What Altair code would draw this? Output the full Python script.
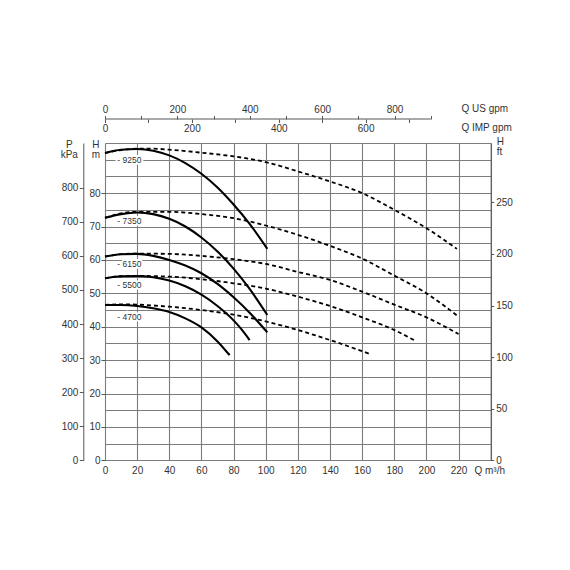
import altair as alt
import pandas as pd

# pump curves: flow Q (m3/h) and head H (m), one pair of lists per speed
speeds = ["9250", "7350", "6150", "5500", "4700"]

solid_q = {
    "9250": [0, 10, 20, 30, 40, 50, 60, 70, 80, 90, 101],
    "7350": [0, 10, 20, 30, 40, 50, 60, 70, 80, 90, 101],
    "6150": [0, 10, 20, 30, 40, 50, 60, 70, 80, 90, 101],
    "5500": [0, 10, 20, 30, 40, 50, 60, 70, 80, 85, 90],
    "4700": [0, 10, 20, 30, 40, 50, 60, 70, 77.5],
}
solid_h = {
    "9250": [92.0, 93.0, 93.2, 92.7, 91.3, 89.0, 85.8, 81.7, 76.6, 70.8, 63.3],
    "7350": [72.6, 73.7, 74.2, 73.7, 72.3, 70.0, 66.7, 62.5, 57.4, 51.3, 43.5],
    "6150": [61.0, 61.7, 61.8, 61.2, 60.0, 58.3, 56.0, 52.8, 48.8, 44.2, 38.3],
    "5500": [54.5, 55.1, 55.2, 54.8, 53.8, 52.1, 49.6, 46.2, 41.9, 39.2, 36.0],
    "4700": [46.5, 46.5, 46.2, 45.5, 44.4, 42.5, 39.8, 35.6, 31.5],
}

dash_q = {
    "9250": [0, 10, 20, 30, 40, 60, 80, 100, 120, 140, 160, 180, 200, 219],
    "7350": [0, 10, 20, 40, 60, 80, 100, 120, 140, 160, 180, 200, 220],
    "6150": [0, 10, 20, 40, 60, 80, 100, 120, 140, 160, 180, 200, 220],
    "5500": [0, 10, 20, 40, 60, 80, 100, 120, 140, 160, 180, 193],
    "4700": [0, 10, 20, 40, 60, 80, 100, 120, 140, 165],
}
dash_h = {
    "9250": [92.0, 92.9, 93.3, 93.3, 93.0, 92.1, 91.0, 89.3, 86.5, 83.5, 80.0, 75.0, 69.5, 63.3],
    "7350": [72.6, 73.9, 74.4, 74.4, 73.7, 72.5, 70.3, 67.5, 64.2, 60.4, 55.3, 50.0, 43.0],
    "6150": [61.0, 61.7, 61.9, 61.8, 61.2, 60.2, 58.8, 56.4, 54.0, 50.5, 46.6, 42.8, 37.8],
    "5500": [54.5, 55.1, 55.2, 55.0, 54.2, 53.0, 51.4, 49.0, 46.2, 42.8, 39.0, 35.8],
    "4700": [46.5, 46.7, 46.6, 46.0, 45.0, 43.6, 41.6, 39.0, 36.0, 31.8],
}

# speed labels next to the start of each curve
label_q = [7.7, 7.7, 7.7, 7.7, 7.7]
label_h = [90.0, 71.7, 58.8, 52.5, 42.8]

# axis ticks
q_grid = [0, 20, 40, 60, 80, 100, 120, 140, 160, 180, 200, 220, 240]
h_grid = [0, 5, 10, 15, 20, 25, 30, 35, 40, 45, 50, 55, 60, 65, 70, 75, 80, 85, 90, 95]
kpa_ticks = [0, 100, 200, 300, 400, 500, 600, 700, 800]
ft_ticks = [0, 50, 100, 150, 200, 250]
us_ticks = [0, 100, 200, 300, 400, 500, 600, 700, 800, 900]
imp_ticks = [0, 100, 200, 300, 400, 500, 600, 700]

Q_MAX = 240
H_MAX = 95
KPA_MAX = 931.6
FT_MAX = 307.5
US_MAX = 1065.6
IMP_MAX = 888

W = 385.7
H = 317.3
FONT = "Liberation Sans"
TXT = "#333"
GRID = "#7c7c7c"
AX = "#555"

solid = pd.DataFrame(
    [{"speed": s, "q": q, "h": h} for s in speeds for q, h in zip(solid_q[s], solid_h[s])]
)
dashed = pd.DataFrame(
    [{"speed": s, "q": q, "h": h} for s in speeds for q, h in zip(dash_q[s], dash_h[s])]
)
labels = pd.DataFrame({"q": label_q, "h": label_h, "txt": ["- " + s for s in speeds]})

x_enc = alt.X(
    "q:Q",
    scale=alt.Scale(domain=[0, Q_MAX], nice=False),
    axis=alt.Axis(
        values=q_grid, labelExpr="datum.value > 220 ? '' : datum.label",
        ticks=False, domain=False, grid=True, gridColor=GRID, gridWidth=1.1,
        labelPadding=5, labelFlush=False, labelOverlap=False,
        title="Q m³/h", titleX=369, titleY=10.5, titleAlign="left", titleBaseline="middle",
    ),
)
y_enc = alt.Y(
    "h:Q",
    scale=alt.Scale(domain=[0, H_MAX], nice=False),
    axis=alt.Axis(
        values=h_grid,
        labelExpr="datum.value % 10 === 0 && datum.value <= 80 ? datum.label : ''",
        tickSize=4, tickColor=AX,
        tickOpacity={"condition": {"test": "datum.value % 10 === 0 && datum.value <= 80", "value": 1}, "value": 0},
        domain=False, grid=True, gridColor=GRID, gridWidth=1.1,
        labelPadding=1, labelOverlap=False,
        title=["H", "m"], titleAngle=0, titleX=-9.7, titleY=-4, titleAlign="center",
        titleBaseline="top", titleLineHeight=11,
    ),
)

dash_lines = alt.Chart(dashed).mark_line(
    color="black", strokeWidth=1.8, strokeDash=[4, 3], interpolate="monotone"
).encode(x=x_enc, y=y_enc, detail="speed:N")

solid_lines = alt.Chart(solid).mark_line(
    color="black", strokeWidth=2.1, interpolate="monotone"
).encode(x=x_enc, y=y_enc, detail="speed:N")

halo = alt.Chart(labels).mark_text(
    align="left", baseline="middle", font=FONT, fontSize=8.5,
    color="white", stroke="white", strokeWidth=4,
).encode(x=x_enc, y=y_enc, text="txt:N")

label_text = alt.Chart(labels).mark_text(
    align="left", baseline="middle", font=FONT, fontSize=8.5, color=TXT
).encode(x=x_enc, y=y_enc, text="txt:N")

main = alt.layer(dash_lines, solid_lines, halo, label_text)

# pressure axis on the far left
kpa = alt.Chart(pd.DataFrame({"kpa": [0, KPA_MAX]})).mark_point(opacity=0).encode(
    y=alt.Y(
        "kpa:Q",
        scale=alt.Scale(domain=[0, KPA_MAX], nice=False),
        axis=alt.Axis(
            orient="left", offset=21.7, values=kpa_ticks, tickSize=4, tickColor=AX,
            domain=True, domainColor=AX, grid=False, labelPadding=1.5, labelOverlap=False,
            title=["P", "kPa"], titleAngle=0, titleX=-14.5, titleY=-4, titleAlign="center",
            titleBaseline="top", titleLineHeight=11,
        ),
    )
)

# head in feet on the right
ft = alt.Chart(pd.DataFrame({"ft": [0, FT_MAX]})).mark_point(opacity=0).encode(
    y=alt.Y(
        "ft:Q",
        scale=alt.Scale(domain=[0, FT_MAX], nice=False),
        axis=alt.Axis(
            orient="right", offset=0, values=ft_ticks, tickSize=3, tickColor=AX,
            domain=True, domainColor=AX, grid=False, labelPadding=2, labelOverlap=False,
            title=["H", "ft"], titleAngle=0, titleX=5.5, titleY=-6.6, titleAlign="left",
            titleBaseline="top", titleLineHeight=10.5,
        ),
    )
)

# flow in gallons along the top
us = alt.Chart(pd.DataFrame({"us": [0], "us2": [900]})).mark_rule(color=AX, strokeWidth=1).encode(
    x=alt.X(
        "us:Q",
        scale=alt.Scale(domain=[0, US_MAX], nice=False),
        axis=alt.Axis(
            orient="top", offset=24, values=us_ticks,
            labelExpr="datum.value % 200 === 0 ? datum.label : ''",
            domain=False, grid=False, tickSize=3.5, tickColor=AX, labelPadding=1.5,
            labelFlush=False, labelOverlap=False,
            title="Q US gpm", titleX=356, titleY=-11, titleAlign="left", titleBaseline="middle",
        ),
    ),
    x2="us2:Q",
    y=alt.value(-24),
)

imp = alt.Chart(pd.DataFrame({"imp": [0, IMP_MAX]})).mark_point(opacity=0).encode(
    x=alt.X(
        "imp:Q",
        scale=alt.Scale(domain=[0, IMP_MAX], nice=False),
        axis=alt.Axis(
            orient="bottom", offset=-(H + 24), values=imp_ticks,
            labelExpr="datum.value % 200 === 0 ? datum.label : ''",
            domain=False, grid=False, tickSize=3.5, tickColor=AX, labelPadding=0.5,
            labelFlush=False, labelOverlap=False,
            title="Q IMP gpm", titleX=356, titleY=8, titleAlign="left", titleBaseline="middle",
        ),
    ),
    y=alt.value(0),
)

chart = (
    alt.layer(main, kpa, ft, us, imp)
    .resolve_scale(x="independent", y="independent")
    .properties(
        width=W, height=H,
        padding={"left": 52, "top": 95, "right": 5, "bottom": 5},
        background="white",
    )
    .configure_view(stroke=None)
    .configure_axis(
        labelFont=FONT, labelFontSize=10, labelColor=TXT,
        titleFont=FONT, titleFontSize=10, titleColor=TXT, titleFontWeight="normal",
    )
)

chart.save("out.html", embed_options={"renderer": "svg", "actions": False})
